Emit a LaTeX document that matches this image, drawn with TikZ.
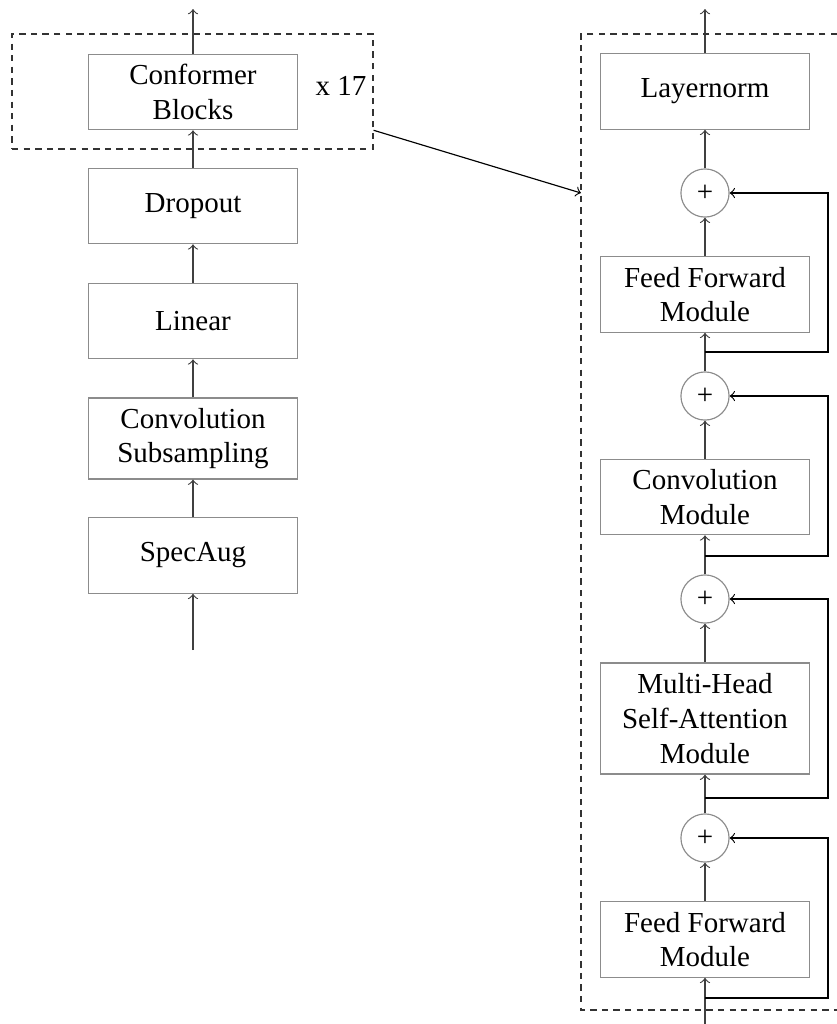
\documentclass[tikz,border=0pt]{standalone}
\usepackage{fontspec}
\setmainfont{Liberation Serif}
\usetikzlibrary{arrows}
\begin{document}
\begin{tikzpicture}[x=0.3448pt,y=-0.3448pt,
  block/.style={draw=black!45, line width=0.4pt, minimum width=72pt,
    minimum height=26pt, inner sep=0pt, align=center},
  adder/.style={circle, draw=black!45, line width=0.4pt, minimum size=16.6pt, inner sep=0pt},
  flow/.style={->, >=to, draw=black!75, line width=0.4pt},
  skip/.style={->, >=to, draw=black, line width=0.4pt},
  group/.style={draw=black!80, dash pattern=on 2.2pt off 1.8pt, line width=0.4pt}]

\useasboundingbox (0,0) rectangle (837,1024);

% ---- encoder stack (left) ----
\node[block] (conf) at (193,92) {Conformer\\Blocks};
\node[block] (drop) at (193,206) {Dropout};
\node[block] (lin) at (193,321) {Linear};
\node[block, minimum height=27.9pt] (sub) at (193,438.5) {Convolution\\Subsampling};
\node[block] (spec) at (193,555.5) {SpecAug};
\coordinate (in) at (193,650);
\coordinate (out) at (193,9);

\node[group, minimum width=124.5pt, minimum height=39.7pt, inner sep=0pt] (grp) at (192.5,91.5) {};
\node[anchor=base] (rep) at (341,95) {x 17};

\draw[flow] (in) -- (spec);
\draw[flow] (spec) -- (sub);
\draw[flow] (sub) -- (lin);
\draw[flow] (lin) -- (drop);
\draw[flow] (drop) -- (conf);
\draw[flow] (conf) -- (out);

% ---- single conformer block (right) ----
\node[block] (ln) at (705,91.5) {Layernorm};
\node[adder] (a1) at (705,193) {+};
\node[block] (ff1) at (705,294.5) {Feed Forward\\Module};
\node[adder] (a2) at (705,396) {+};
\node[block] (conv) at (705,497) {Convolution\\Module};
\node[adder] (a3) at (705,599) {+};
\node[block, minimum height=38.3pt] (mhsa) at (705,718.5) {Multi-Head\\Self-Attention\\Module};
\node[adder] (a4) at (705,838) {+};
\node[block] (ff2) at (705,939.5) {Feed Forward\\Module};
\coordinate (rin) at (705,1024);
\coordinate (rout) at (705,9);

% residual branch points and the rail on the right
\coordinate (s1) at (705,352);
\coordinate (s2) at (705,556);
\coordinate (s3) at (705,798);
\coordinate (s4) at (705,998);
\coordinate (k1) at (828,352);
\coordinate (k2) at (828,556);
\coordinate (k3) at (828,798);
\coordinate (k4) at (828,998);

\draw[flow] (rin) -- (ff2);
\draw[flow] (ff2) -- (a4);
\draw[flow] (a4) -- (mhsa);
\draw[flow] (mhsa) -- (a3);
\draw[flow] (a3) -- (conv);
\draw[flow] (conv) -- (a2);
\draw[flow] (a2) -- (ff1);
\draw[flow] (ff1) -- (a1);
\draw[flow] (a1) -- (ln);
\draw[flow] (ln) -- (rout);

\draw[skip] (s4) -- (k4) |- (a4);
\draw[skip] (s3) -- (k3) |- (a3);
\draw[skip] (s2) -- (k2) |- (a2);
\draw[skip] (s1) -- (k1) |- (a1);

% dashed outline of the expanded block (open on the right)
\coordinate (gtl) at (581,34);
\coordinate (gbl) at (581,1010);
\coordinate (gtr) at (837,34);
\coordinate (gbr) at (837,1010);
\draw[group] (gtr) -- (gtl) -- (gbl) -- (gbr);

% link from the repeated block to its expansion
\draw[skip] (grp.east |- conf.south) -- (gtl |- a1);
\end{tikzpicture}
\end{document}
